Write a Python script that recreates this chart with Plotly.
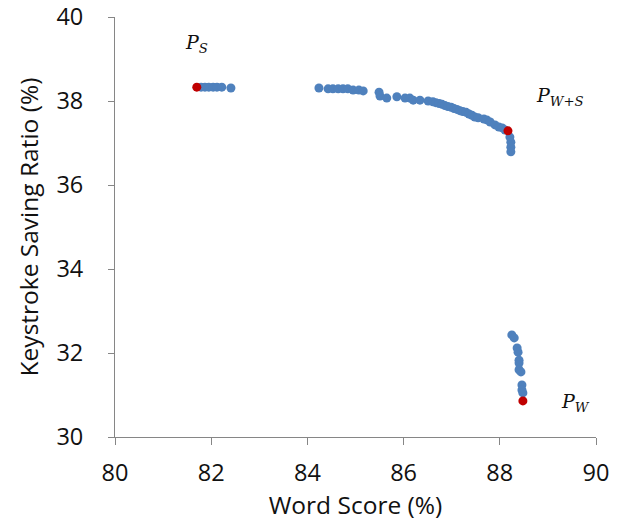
import plotly.graph_objects as go

# Blue points (Word Score %, Keystroke Saving Ratio %)
blue_x = [81.79, 81.87, 81.95, 82.04, 82.12, 82.22, 82.41,
          84.24, 84.43, 84.53, 84.64, 84.74, 84.84, 84.95, 85.07, 85.16,
          85.49, 85.51, 85.65, 85.86, 86.03, 86.13, 86.20, 86.34, 86.51, 86.61,
          86.67, 86.74, 86.80, 86.86, 86.92, 86.99, 87.05, 87.11, 87.17, 87.23,
          87.30, 87.36, 87.42, 87.48, 87.55, 87.67, 87.73, 87.80, 87.90, 87.98,
          88.05, 88.11, 88.21, 88.23, 88.23, 88.23,
          88.25, 88.30, 88.36, 88.38, 88.40, 88.40, 88.40, 88.44, 88.46, 88.46, 88.48]
blue_y = [38.33, 38.33, 38.33, 38.33, 38.33, 38.33, 38.31,
          38.31, 38.29, 38.29, 38.29, 38.29, 38.29, 38.26, 38.26, 38.24,
          38.21, 38.12, 38.07, 38.10, 38.07, 38.07, 38.02, 38.02, 38.00, 37.98,
          37.96, 37.94, 37.92, 37.89, 37.87, 37.85, 37.82, 37.80, 37.77, 37.75,
          37.73, 37.69, 37.66, 37.62, 37.60, 37.57, 37.55, 37.50, 37.43, 37.38,
          37.36, 37.31, 37.14, 37.02, 36.90, 36.79,
          32.43, 32.36, 32.12, 32.02, 31.83, 31.76, 31.60, 31.55, 31.24, 31.12, 31.05]

# Highlighted (red) points: P_S, P_W+S, P_W
red_x = [81.70, 88.17, 88.48]
red_y = [38.33, 37.29, 30.86]

label_text = ["<i>P</i><sub><i>S</i></sub>", "<i>P</i><sub><i>W+S</i></sub>", "<i>P</i><sub><i>W</i></sub>"]
label_x = [81.70, 89.25, 89.58]
label_y = [39.38, 38.10, 30.83]

x_ticks = [80, 82, 84, 86, 88, 90]
y_ticks = [30, 32, 34, 36, 38, 40]

fig = go.Figure()
fig.add_trace(go.Scatter(x=blue_x, y=blue_y, mode="markers",
                         marker=dict(color="#4F81BD", size=9, line=dict(width=0)),
                         showlegend=False))
fig.add_trace(go.Scatter(x=red_x, y=red_y, mode="markers",
                         marker=dict(color="#C00000", size=9, line=dict(width=0)),
                         showlegend=False))

for t, lx, ly in zip(label_text, label_x, label_y):
    fig.add_annotation(x=lx, y=ly, text=t, showarrow=False,
                       font=dict(family="DejaVu Serif", size=19, color="#111111"))

tick_font = dict(family="Open Sans", size=23.5, color="#111111")
title_font = dict(family="Open Sans", size=24.5, color="#111111")
fig.update_layout(
    width=621, height=525,
    margin=dict(l=115, r=25, t=17, b=88, autoexpand=False),
    paper_bgcolor="white", plot_bgcolor="white",
    xaxis=dict(range=[80, 90], tickvals=x_ticks, showgrid=False, zeroline=False,
               showline=True, linecolor="#868686", linewidth=1,
               ticks="outside", ticklen=7, tickcolor="#868686",
               tickfont=tick_font, ticklabelstandoff=8, automargin=False,
               title=dict(text="Word Score (%)", font=title_font, standoff=2)),
    yaxis=dict(range=[30, 40], tickvals=y_ticks, showgrid=False, zeroline=False,
               showline=True, linecolor="#868686", linewidth=1,
               ticks="outside", ticklen=6, tickcolor="#868686",
               tickfont=tick_font, ticklabelstandoff=20, automargin=False,
               title=dict(text="Keystroke Saving Ratio (%)", font=title_font, standoff=10)),
)

fig.write_html("out.html", config={"displayModeBar": False},
               post_script="document.body.style.margin='0';")
